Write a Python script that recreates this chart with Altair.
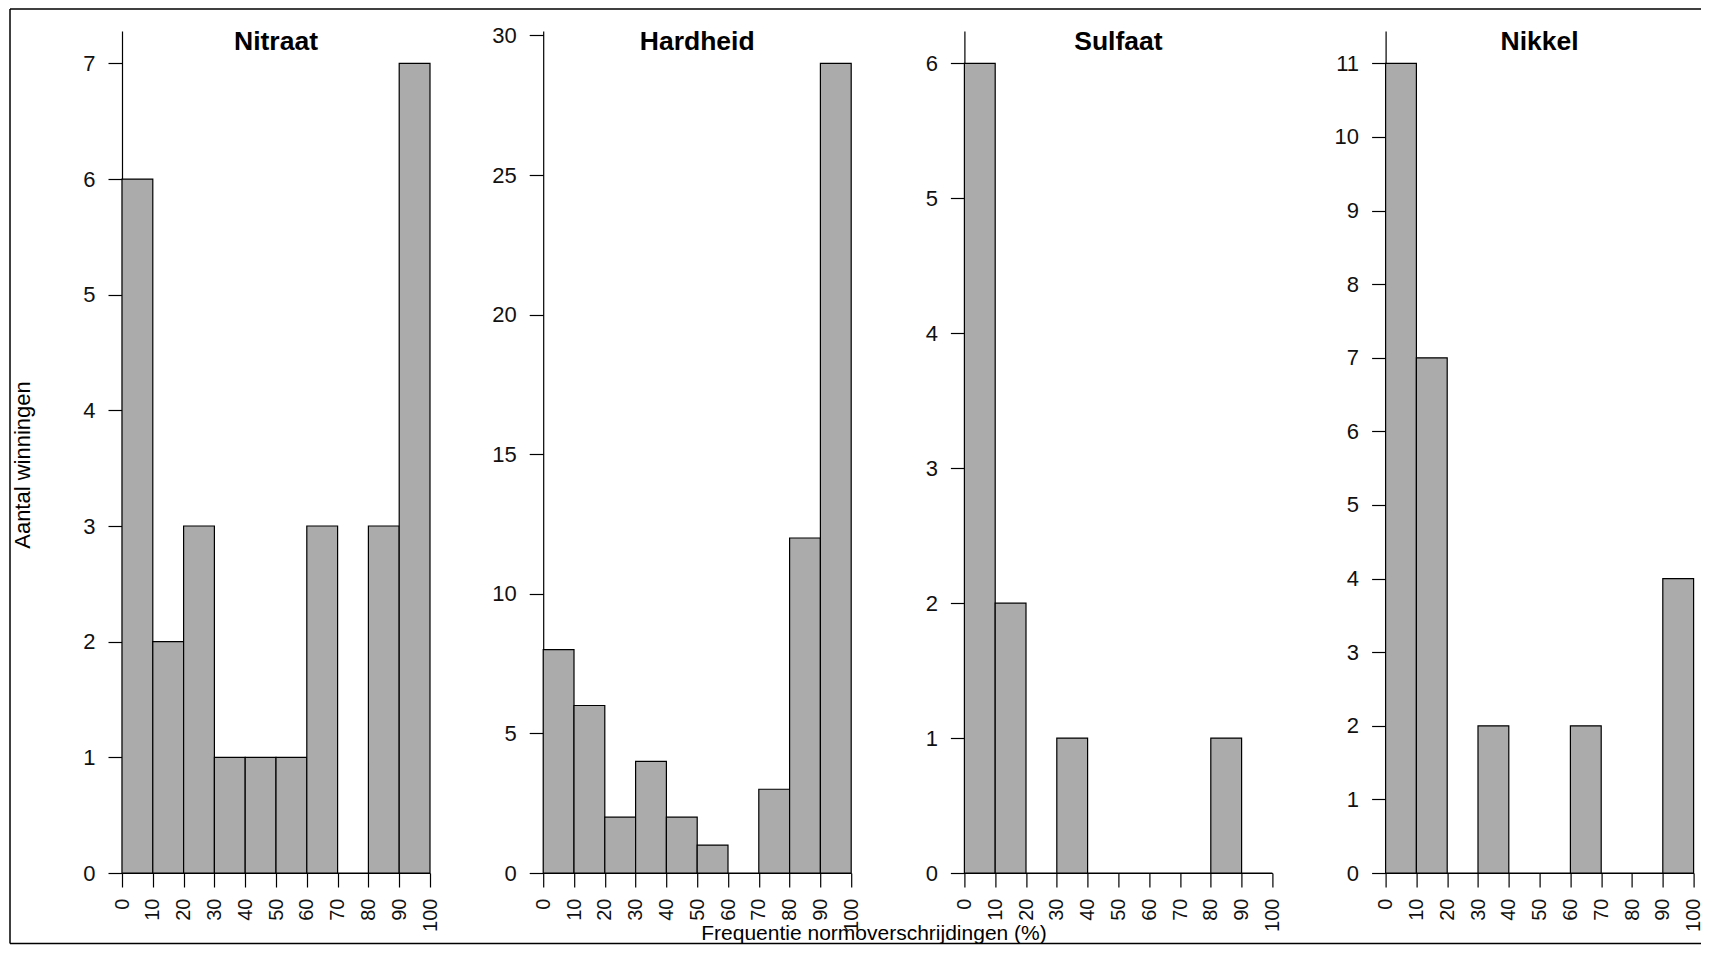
import altair as alt
import pandas as pd

# ---- data ----
bin_edges = [0, 10, 20, 30, 40, 50, 60, 70, 80, 90, 100]
panel_names = ["Nitraat", "Hardheid", "Sulfaat", "Nikkel"]
nitraat = [6, 2, 3, 1, 1, 1, 3, 0, 3, 7]
hardheid = [8, 6, 2, 4, 2, 1, 0, 3, 12, 29]
sulfaat = [6, 2, 0, 1, 0, 0, 0, 0, 1, 0]
nikkel = [11, 7, 0, 2, 0, 0, 2, 0, 0, 4]
y_tick_nitraat = [0, 1, 2, 3, 4, 5, 6, 7]
y_tick_hardheid = [0, 5, 10, 15, 20, 25, 30]
y_tick_sulfaat = [0, 1, 2, 3, 4, 5, 6]
y_tick_nikkel = [0, 1, 2, 3, 4, 5, 6, 7, 8, 9, 10, 11]
x_ticks = [0, 10, 20, 30, 40, 50, 60, 70, 80, 90, 100]
y_title = "Aantal winningen"
x_title = "Frequentie normoverschrijdingen (%)"

FONT = "Liberation Sans"
W, H = 308, 842


def panel(name, counts, yticks, first=False):
    df = pd.DataFrame({
        "start": bin_edges[:-1],
        "end": bin_edges[1:],
        "count": counts,
        "base": [0] * len(counts),
    })
    ymax = max(counts) * 1.04
    xscale = alt.Scale(domain=[0, 100], nice=False, zero=False)
    xaxis = alt.Axis(values=x_ticks, title=None, labelAngle=270,
                     tickSize=14, labelPadding=11, grid=False,
                     labelFontSize=20, format="d", labelOverlap=False)
    bars = alt.Chart(df).mark_rect(
        fill="#ABABAB", stroke="black", strokeWidth=1.2
    ).encode(
        x=alt.X("start:Q", scale=xscale, axis=xaxis),
        x2="end:Q",
        y=alt.Y("count:Q",
                scale=alt.Scale(domain=[0, ymax], nice=False),
                axis=alt.Axis(values=yticks, title=None, tickSize=14,
                              labelPadding=13, grid=False, labelFontSize=22,
                              format="d", labelOverlap=False)),
        y2="base:Q",
    )
    title = alt.Chart(alt.Data(values=[{"t": name}])).mark_text(
        font=FONT, fontSize=26.5, fontWeight="bold", baseline="alphabetic",
        align="center", color="black"
    ).encode(x=alt.XDatum(50, type="quantitative", scale=xscale, axis=xaxis),
             y=alt.value(18.5), text="t:N")
    layers = [bars, title]
    if first:
        deco = alt.Data(values=[{"a": y_title, "b": x_title}])
        ytitle = alt.Chart(deco).mark_text(
            font=FONT, fontSize=22, angle=270, baseline="middle",
            align="center", color="black"
        ).encode(x=alt.value(-99.5), y=alt.value(434), text="a:N")
        xtitle = alt.Chart(deco).mark_text(
            font=FONT, fontSize=21, baseline="alphabetic",
            align="center", color="black"
        ).encode(x=alt.value(752), y=alt.value(908.5), text="b:N")
        frame_left = alt.Chart(deco).mark_rule(color="black", strokeWidth=1.5).encode(
            x=alt.value(-112), y=alt.value(-22), y2=alt.value(912.5))
        frame_top = alt.Chart(deco).mark_rule(color="black", strokeWidth=1.5).encode(
            x=alt.value(-112), x2=alt.value(1579), y=alt.value(-22))
        frame_bottom = alt.Chart(deco).mark_rule(color="black", strokeWidth=1.5).encode(
            x=alt.value(-112), x2=alt.value(1579), y=alt.value(912.5))
        layers += [ytitle, xtitle, frame_left, frame_top, frame_bottom]
    return alt.layer(*layers).properties(width=W, height=H)


panels = [
    panel(panel_names[0], nitraat, y_tick_nitraat, first=True),
    panel(panel_names[1], hardheid, y_tick_hardheid),
    panel(panel_names[2], sulfaat, y_tick_sulfaat),
    panel(panel_names[3], nikkel, y_tick_nikkel),
]

chart = alt.hconcat(*panels, spacing=113.2, bounds="flush").properties(
    padding={"left": 1, "top": 0, "right": 0, "bottom": 0}
).configure_view(stroke=None).configure_axis(
    domainColor="black", domainWidth=1.2, tickColor="black", tickWidth=1.2,
    labelColor="#111111", labelFont=FONT, grid=False
)

chart.save("out.html", embed_options={"renderer": "svg", "actions": False})
